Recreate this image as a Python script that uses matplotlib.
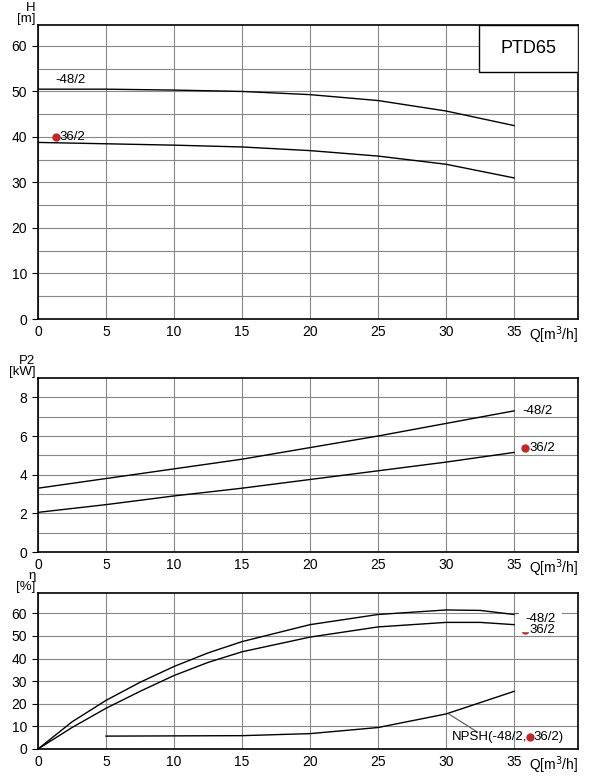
import matplotlib
matplotlib.use("Agg")
import matplotlib.pyplot as plt
from matplotlib.patches import Rectangle
import matplotlib.transforms as mtrans
import numpy as np

q = [0, 5, 10, 15, 20, 25, 30, 35]
h48 = [50.5, 50.5, 50.3, 50.0, 49.3, 48.0, 45.7, 42.5]
h36 = [38.8, 38.5, 38.2, 37.8, 37.0, 35.8, 34.0, 31.0]
p48 = [3.3, 3.8, 4.3, 4.8, 5.4, 6.0, 6.65, 7.3]
p36 = [2.05, 2.45, 2.9, 3.3, 3.75, 4.2, 4.65, 5.15]
qe = [0, 2.5, 5, 7.5, 10, 12.5, 15, 20, 25, 30, 32.5, 35]
e48 = [0, 12, 21.5, 29.5, 36.5, 42.5, 47.5, 55, 59.5, 61.5, 61.3, 59.5]
e36 = [0, 9.5, 18, 25.5, 32.5, 38.3, 43, 49.5, 54, 56, 56, 55]
qn = [5, 10, 15, 20, 25, 30, 35]
npsh = [5.7, 5.8, 5.9, 6.8, 9.5, 15.5, 25.5]

W, H = 590, 779
fig = plt.figure(figsize=(5.9, 7.79), dpi=100)
plt.rcParams['font.family'] = ['Liberation Sans', 'DejaVu Sans']
RED = '#c0282a'

def mk(top, bot, ylim, ymaj, ymin_step):
    ax = fig.add_axes([38/W, 1-bot/H, (578-38)/W, (bot-top)/H])
    ax.set_xlim(0, 39.7)
    ax.set_ylim(*ylim)
    ax.set_xticks(range(0, 36, 5))
    ax.set_yticks(ymaj)
    ax.set_yticks(np.arange(0, ylim[1], ymin_step), minor=True)
    ax.grid(True, which='both', color='#888888', lw=0.8)
    ax.tick_params(which='both', length=0, labelsize=10, pad=4)
    ax.tick_params(axis='y', which='major', length=4)
    for s in ax.spines.values():
        s.set_linewidth(1.2)
    tr = mtrans.blended_transform_factory(ax.transData, ax.transAxes)
    ax.text(39.7, -0.018 * 294 / (bot - top) * 1.0, 'Q[m$^3$/h]', transform=tr,
            ha='right', va='top', fontsize=10)
    return ax

ax1 = mk(25, 319, (0, 64.6), range(0, 61, 10), 5)
ax1.plot(q, h48, 'k', lw=1)
ax1.plot(q, h36, 'k', lw=1)
ax1.text(1.3, 51.3, '-48/2', fontsize=9.5, va='bottom')
ax1.plot(1.3, 40, 'o', color=RED, ms=5)
ax1.text(1.6, 40, '36/2', fontsize=9.5, va='center')
ax1.text(-0.005, 1.0, 'H\n[m]', transform=ax1.transAxes, ha='right', va='bottom', fontsize=9.5, linespacing=0.9)
ax1.add_patch(Rectangle((32.4, 54.2), 7.3, 10.4, facecolor='white', edgecolor='k', lw=1, zorder=5))
ax1.text(36.05, 59.4, 'PTD65', fontsize=13, ha='center', va='center', zorder=6)

ax2 = mk(378, 552, (0, 9.0), range(0, 9, 2), 1)
ax2.plot(q, p48, 'k', lw=1)
ax2.plot(q, p36, 'k', lw=1)
ax2.text(35.6, 7.3, '-48/2', fontsize=9.5, va='center')
ax2.plot(35.8, 5.4, 'o', color=RED, ms=5)
ax2.text(36.1, 5.4, '36/2', fontsize=9.5, va='center')
ax2.text(-0.005, 1.0, 'P2\n[kW]', transform=ax2.transAxes, ha='right', va='bottom', fontsize=9.5, linespacing=0.9)

ax3 = mk(593, 749, (0, 69), range(0, 61, 10), 10)
ax3.plot(qe, e48, 'k', lw=1)
ax3.plot(qe, e36, 'k', lw=1)
ax3.plot(qn, npsh, 'k', lw=1)
ax3.plot([35, 38.5], [60, 60], color='#555555', lw=0.8)
ax3.text(35.8, 57.5, '-48/2', fontsize=9.5, va='center', backgroundcolor='white')
ax3.plot(35.8, 52.5, 'o', color=RED, ms=5)
ax3.text(36.1, 52.5, '36/2', fontsize=9.5, va='center')
ax3.plot([30.2, 32.3], [15.5, 7.5], color='#555555', lw=0.8)
ax3.text(35.95, 5.3, 'NPSH(-48/2,', fontsize=9.5, va='center', ha='right')
ax3.plot(36.2, 5.3, 'o', color=RED, ms=5, zorder=10)
ax3.text(36.45, 5.3, '36/2)', fontsize=9.5, va='center', ha='left')
ax3.text(-0.005, 1.0, '\u03b7\n[%]', transform=ax3.transAxes, ha='right', va='bottom', fontsize=9.5, linespacing=0.9)

fig.savefig('out.png', dpi=100)
